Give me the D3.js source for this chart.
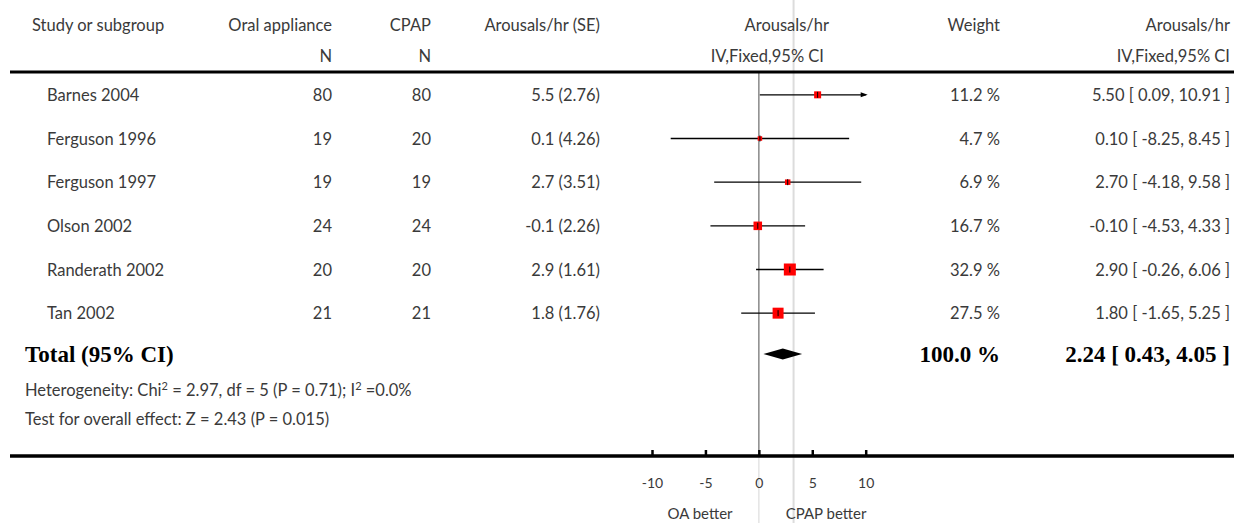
<!DOCTYPE html>
<html lang="en">
<head>
    <meta charset="utf-8">
    <title>Forest plot</title>
    <script type="text/javascript" src="https://d3js.org/d3.v7.min.js"></script>
    <style>
        body { margin: 0; background: white; }
        text { font-family: Lato, "Open Sans", sans-serif; font-size: 16.5px; fill: #3a3a3a; }
        .bold { font-family: "Liberation Serif", serif; font-weight: bold; font-size: 23px; fill: #000; }
    </style>
</head>
<body>
    <div id="forest"></div>
    <script type="text/javascript">
        // data
        const studies = ["Barnes 2004", "Ferguson 1996", "Ferguson 1997", "Olson 2002", "Randerath 2002", "Tan 2002"];
        const nOA = [80, 19, 19, 24, 20, 21];
        const nCPAP = [80, 20, 19, 24, 20, 21];
        const means = [5.5, 0.1, 2.7, -0.1, 2.9, 1.8];
        const ses = [2.76, 4.26, 3.51, 2.26, 1.61, 1.76];
        const weights = [11.2, 4.7, 6.9, 16.7, 32.9, 27.5];
        const ciLow = [0.09, -8.25, -4.18, -4.53, -0.26, -1.65];
        const ciHigh = [10.91, 8.45, 9.58, 4.33, 6.06, 5.25];
        const total = {mean: 2.24, low: 0.43, high: 4.05, weight: 100.0};
        const xTicks = [-10, -5, 0, 5, 10];
        const refValue = 3.25;

        const width = 1234;
        const height = 523;

        const dataset = studies.map((s, i) => ({
            name: s, nOA: nOA[i], nCPAP: nCPAP[i], mean: means[i], se: ses[i],
            weight: weights[i], low: ciLow[i], high: ciHigh[i]
        }));

        const svg = d3.select("#forest")
            .append("svg")
            .attr("width", width)
            .attr("height", height);

        const x = d3.scaleLinear().domain([-10, 10]).range([652, 865.7]);
        const y = d3.scaleBand()
            .domain(studies)
            .range([73, 335])
            .paddingOuter(0.0);
        const yc = d => y(d) + y.bandwidth() / 2;
        const size = d3.scaleSqrt().domain([0, 32.9]).range([0, 12]);

        // reference lines
        svg.append("line")
            .attr("x1", x(refValue)).attr("x2", x(refValue))
            .attr("y1", 0).attr("y2", height)
            .attr("stroke", "#dcdcdc").attr("stroke-width", 2);
        svg.append("line")
            .attr("x1", x(0)).attr("x2", x(0))
            .attr("y1", 72).attr("y2", 456)
            .attr("stroke", "#888").attr("stroke-width", 1.5);
        svg.append("line")
            .attr("x1", x(0)).attr("x2", x(0))
            .attr("y1", 456).attr("y2", height)
            .attr("stroke", "#e4e4e4").attr("stroke-width", 1.5);

        // header
        const head = svg.append("g");
        head.append("text").attr("x", 32).attr("y", 31).text("Study or subgroup");
        head.append("text").attr("x", 332).attr("y", 31).attr("text-anchor", "end").text("Oral appliance");
        head.append("text").attr("x", 332).attr("y", 62).attr("text-anchor", "end").text("N");
        head.append("text").attr("x", 431).attr("y", 31).attr("text-anchor", "end").text("CPAP");
        head.append("text").attr("x", 431).attr("y", 62).attr("text-anchor", "end").text("N");
        head.append("text").attr("x", 600).attr("y", 31).attr("text-anchor", "end").text("Arousals/hr (SE)");
        head.append("text").attr("x", 829).attr("y", 31).attr("text-anchor", "end").text("Arousals/hr");
        head.append("text").attr("x", 824).attr("y", 62).attr("text-anchor", "end").text("IV,Fixed,95% CI");
        head.append("text").attr("x", 1000).attr("y", 31).attr("text-anchor", "end").text("Weight");
        head.append("text").attr("x", 1230).attr("y", 31).attr("text-anchor", "end").text("Arousals/hr");
        head.append("text").attr("x", 1230).attr("y", 62).attr("text-anchor", "end").text("IV,Fixed,95% CI");

        svg.append("line")
            .attr("x1", 10).attr("x2", width)
            .attr("y1", 72).attr("y2", 72)
            .attr("stroke", "#000").attr("stroke-width", 3);

        // study rows
        const rows = svg.append("g")
            .selectAll("g")
            .data(dataset)
            .enter()
            .append("g")
            .attr("transform", d => `translate(0,${yc(d.name)})`);

        rows.append("text").attr("x", 47).attr("y", 6).text(d => d.name);
        rows.append("text").attr("x", 332).attr("y", 6).attr("text-anchor", "end").text(d => d.nOA);
        rows.append("text").attr("x", 431).attr("y", 6).attr("text-anchor", "end").text(d => d.nCPAP);
        rows.append("text").attr("x", 600).attr("y", 6).attr("text-anchor", "end")
            .text(d => `${d.mean} (${d.se.toFixed(2)})`);
        rows.append("text").attr("x", 1000).attr("y", 6).attr("text-anchor", "end")
            .text(d => `${d.weight.toFixed(1)} %`);
        rows.append("text").attr("x", 1230).attr("y", 6).attr("text-anchor", "end")
            .text(d => `${d.mean.toFixed(2)} [ ${d.low.toFixed(2)}, ${d.high.toFixed(2)} ]`);

        // confidence intervals (clipped to axis, arrow when clipped)
        const [dMin, dMax] = x.domain();
        rows.append("line")
            .attr("x1", d => x(Math.max(d.low, dMin)))
            .attr("x2", d => x(Math.min(d.high, dMax)))
            .attr("y1", 0).attr("y2", 0)
            .attr("stroke", "#000").attr("stroke-width", 1.3);
        rows.filter(d => d.high > dMax)
            .append("path")
            .attr("d", `M${x(dMax) + 2},0 L${x(dMax) - 5},-2.5 L${x(dMax) - 5},2.5 Z`)
            .attr("fill", "#000");
        rows.append("rect")
            .attr("x", d => x(d.mean) - size(d.weight) / 2)
            .attr("y", d => -size(d.weight) / 2)
            .attr("width", d => size(d.weight))
            .attr("height", d => size(d.weight))
            .attr("fill", "#ff0000");
        rows.append("line")
            .attr("x1", d => x(d.mean)).attr("x2", d => x(d.mean))
            .attr("y1", -3).attr("y2", 3)
            .attr("stroke", "#000").attr("stroke-width", 1);

        // total
        const totalY = 354;
        svg.append("text").attr("class", "bold").attr("x", 25).attr("y", totalY + 8).text("Total (95% CI)");
        svg.append("text").attr("class", "bold").attr("x", 1000).attr("y", totalY + 8).attr("text-anchor", "end")
            .text(`${total.weight.toFixed(1)} %`);
        svg.append("text").attr("class", "bold").attr("x", 1230).attr("y", totalY + 8).attr("text-anchor", "end")
            .text(`${total.mean.toFixed(2)} [ ${total.low.toFixed(2)}, ${total.high.toFixed(2)} ]`);
        svg.append("path")
            .attr("d", `M${x(total.low)},${totalY} L${x(total.mean)},${totalY - 5.5} L${x(total.high)},${totalY} L${x(total.mean)},${totalY + 5.5} Z`)
            .attr("fill", "#000");

        const het = svg.append("text").attr("x", 25).attr("y", 396);
        het.append("tspan").text("Heterogeneity: Chi");
        het.append("tspan").attr("baseline-shift", "super").attr("font-size", "11px").text("2");
        het.append("tspan").text(" = 2.97, df = 5 (P = 0.71); I");
        het.append("tspan").attr("baseline-shift", "super").attr("font-size", "11px").text("2");
        het.append("tspan").text(" =0.0%");
        svg.append("text").attr("x", 25).attr("y", 425).text("Test for overall effect: Z = 2.43 (P = 0.015)");

        // axis
        svg.append("line")
            .attr("x1", 10).attr("x2", width)
            .attr("y1", 456).attr("y2", 456)
            .attr("stroke", "#000").attr("stroke-width", 3.5);
        const axis = svg.append("g")
            .attr("transform", "translate(0,456)")
            .call(d3.axisTop(x).tickValues(xTicks).tickSize(6).tickFormat(d => d));
        axis.select(".domain").remove();
        axis.selectAll(".tick line").attr("stroke", "#000").attr("stroke-width", 2.5);
        axis.selectAll(".tick text")
            .attr("y", 32).attr("dy", 0)
            .style("font-family", "Lato, sans-serif")
            .style("font-size", "14px")
            .attr("fill", "#3a3a3a");

        svg.append("text").attr("x", 700).attr("y", 519).attr("text-anchor", "middle")
            .style("font-size", "15px").text("OA better");
        svg.append("text").attr("x", 826).attr("y", 519).attr("text-anchor", "middle")
            .style("font-size", "15px").text("CPAP better");
    </script>
</body>
</html>
